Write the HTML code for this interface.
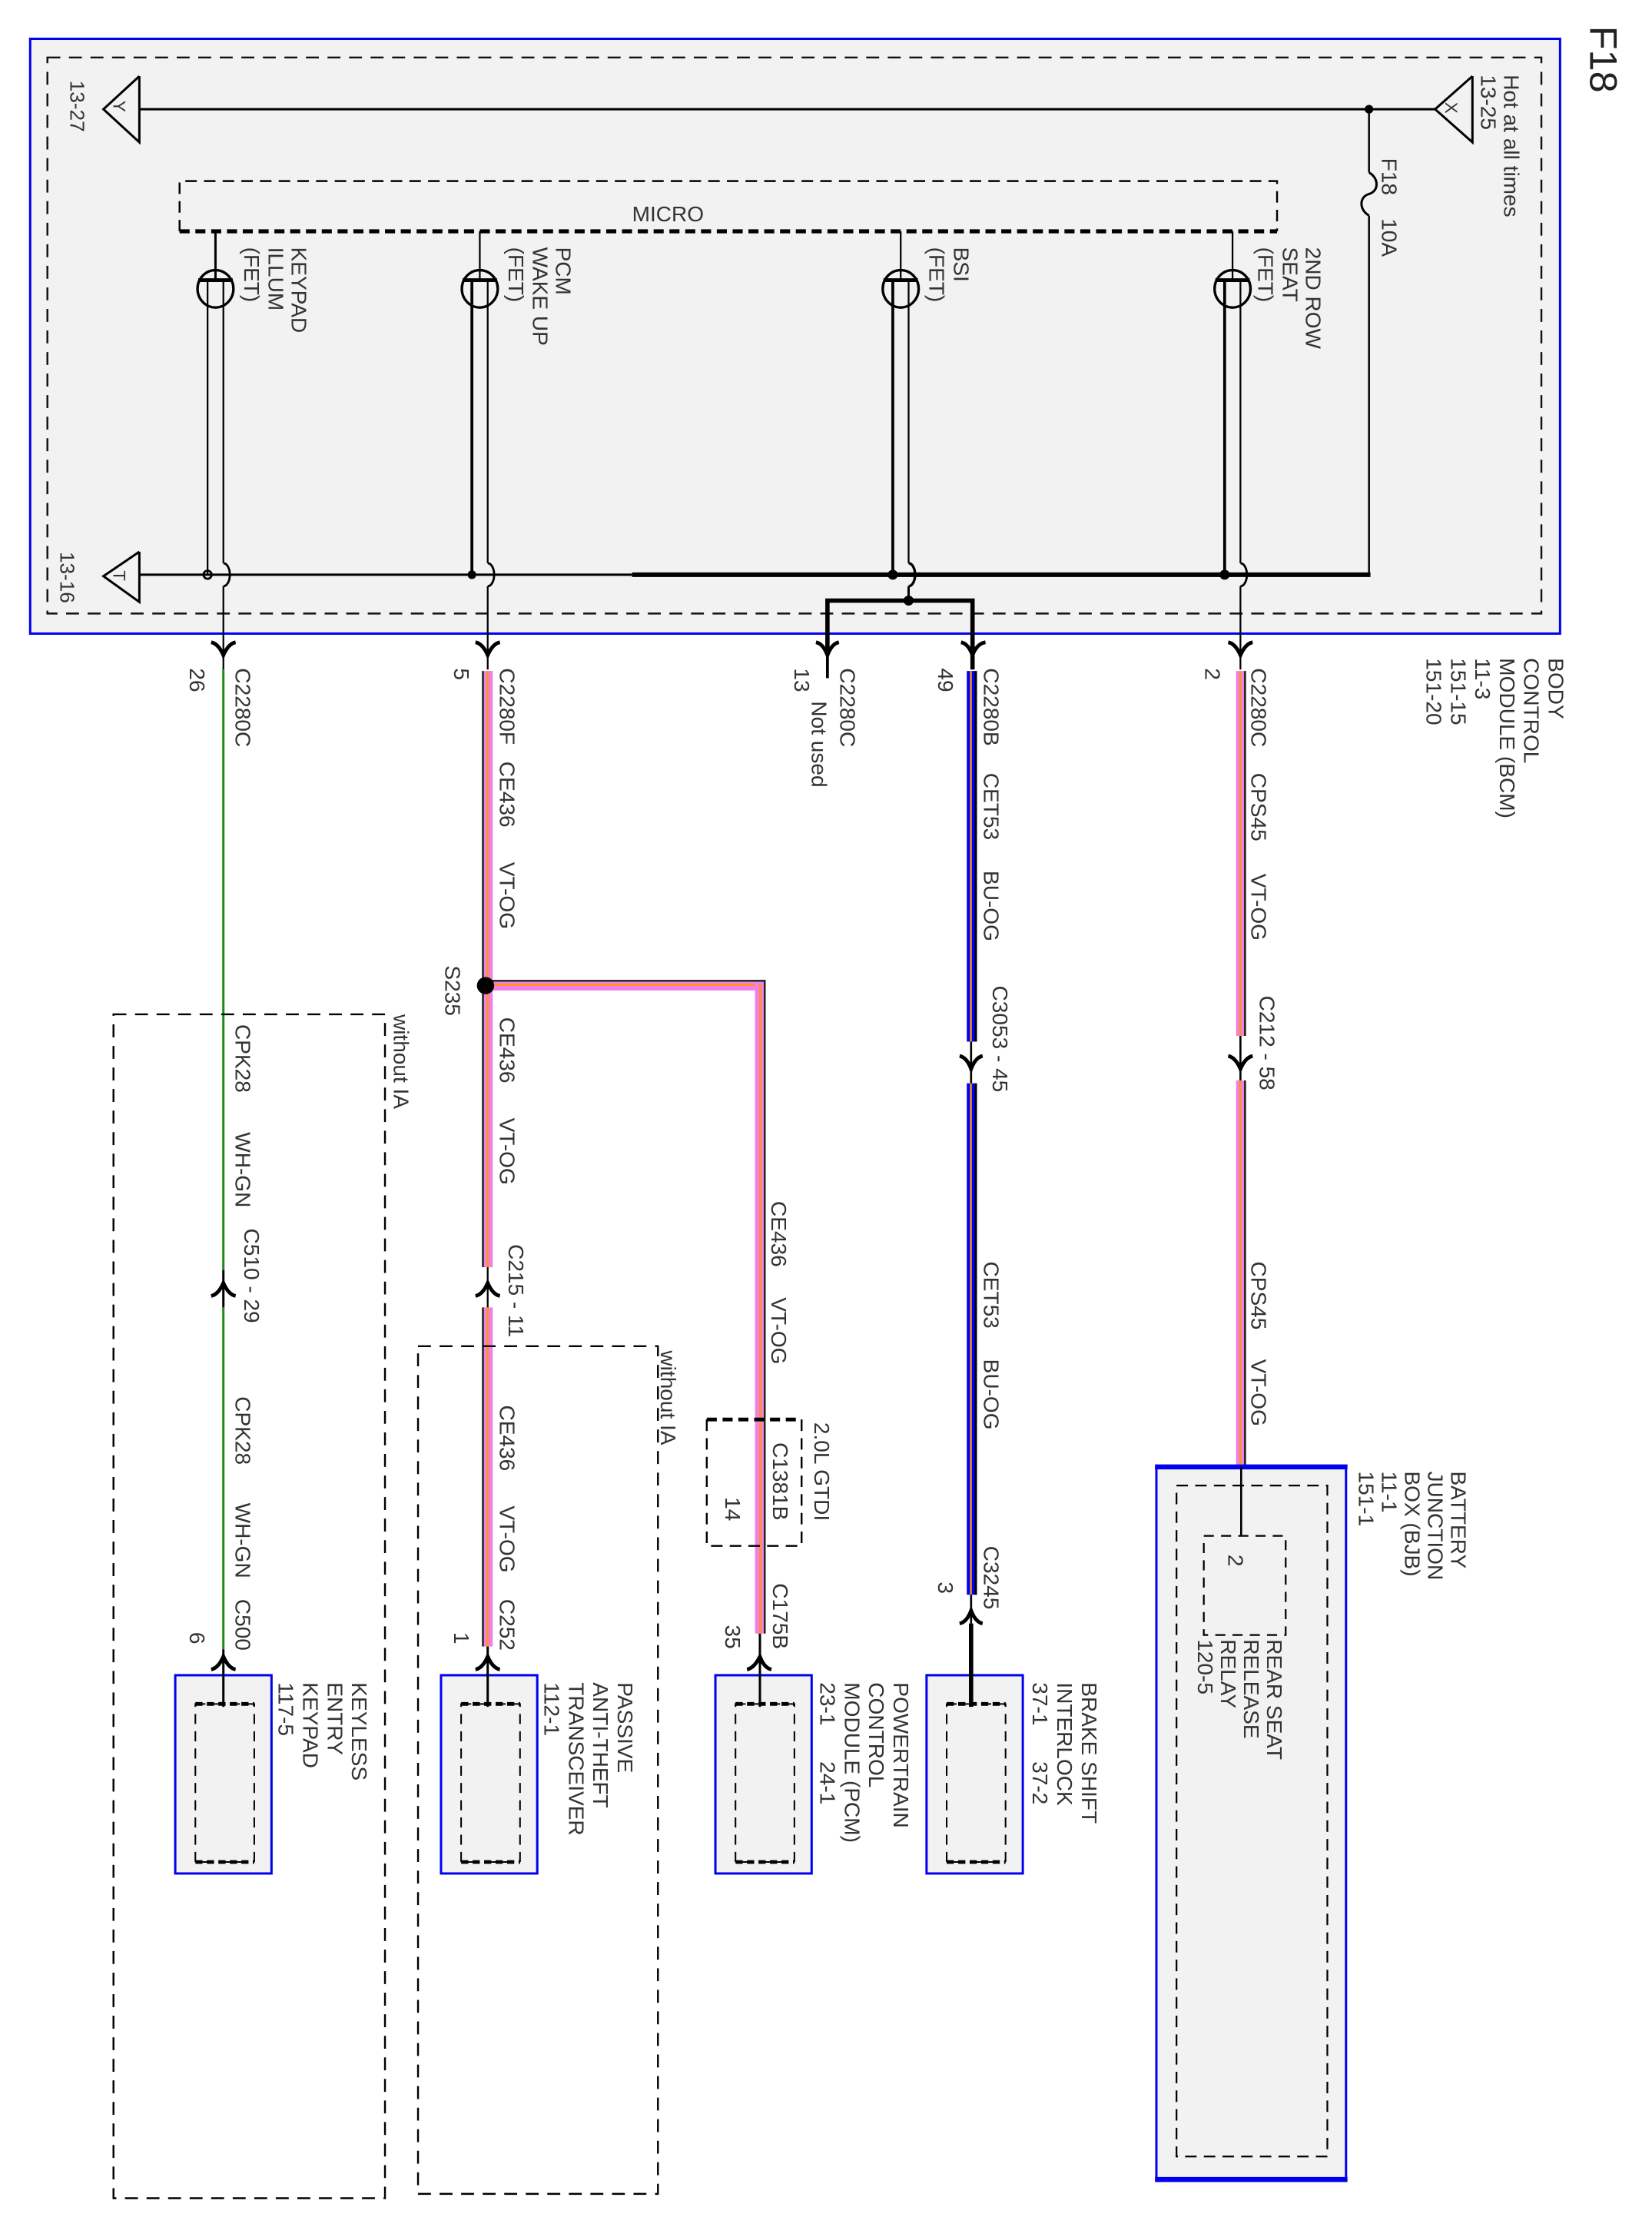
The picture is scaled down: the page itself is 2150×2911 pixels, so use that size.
<!DOCTYPE html>
<html><head><meta charset="utf-8"><style>
html,body{margin:0;padding:0;background:#fff;}
svg{display:block}
text{font-family:"Liberation Sans",sans-serif;fill:#333;font-size:15px}
</style></head><body>
<svg width="2150" height="2911" viewBox="0 0 1150 1557" xmlns="http://www.w3.org/2000/svg">
<rect x="0" y="0" width="1150" height="1557" fill="#fff"/>
<rect x="21" y="27" width="1065" height="414" fill="#f2f2f2" stroke="#0000ee" stroke-width="1.6"/>
<rect x="33" y="40" width="1040" height="387" fill="none" stroke="#111" stroke-width="1.3" stroke-dasharray="9,6"/>
<g fill="none" stroke="#000">
<line x1="97" y1="76" x2="999" y2="76" stroke-width="1.6"/>
<polyline points="97,53 72,76 97,99 97,53" stroke-width="1.6"/>
<polyline points="1025,53 999,76 1025,99 1025,53" stroke-width="1.6"/>
<polyline points="97,384 72,401 97,419 97,384" stroke-width="1.6"/>
<line x1="953" y1="76" x2="953" y2="120" stroke-width="1.3"/>
<path d="M953,120 C960,124 960,133 953,135 C946,137 946,146 953,150" stroke-width="1.6"/>
<line x1="953" y1="150" x2="953" y2="400" stroke-width="1.3"/>
<line x1="97" y1="400" x2="440" y2="400" stroke-width="1.6"/>
<line x1="440" y1="400" x2="954" y2="400" stroke-width="3.2"/>
<path d="M125,161 L125,126 L889,126 L889,161" stroke-width="1.3" stroke-dasharray="8,5"/>
<line x1="125" y1="161" x2="889" y2="161" stroke-width="2.8" stroke-dasharray="7,4"/>
</g>
<circle cx="953" cy="76" r="3" fill="#000"/>
<text x="440" y="154">MICRO</text>
<g fill="none" stroke="#000">
<line x1="150" y1="161" x2="150" y2="195" stroke-width="1.6"/>
<ellipse cx="150" cy="201" rx="12.5" ry="13" stroke-width="1.8"/>
<line x1="138" y1="195" x2="162" y2="195" stroke-width="2.6"/>
<line x1="144.5" y1="195" x2="144.5" y2="400" stroke-width="1.2"/>
<line x1="155.5" y1="195" x2="155.5" y2="392" stroke-width="1.2"/>
<path d="M155.5,392 A4.5,8 0 0 1 155.5,408" stroke-width="1.5"/>
<line x1="155.5" y1="408" x2="155.5" y2="466" stroke-width="1.2"/>
<line x1="334" y1="161" x2="334" y2="195" stroke-width="1.2"/>
<ellipse cx="334" cy="201" rx="12.5" ry="13" stroke-width="1.8"/>
<line x1="322" y1="195" x2="346" y2="195" stroke-width="2.6"/>
<line x1="328.5" y1="195" x2="328.5" y2="400" stroke-width="2"/>
<line x1="339.5" y1="195" x2="339.5" y2="392" stroke-width="1.2"/>
<path d="M339.5,392 A4.5,8 0 0 1 339.5,408" stroke-width="1.5"/>
<line x1="339.5" y1="408" x2="339.5" y2="466" stroke-width="1.2"/>
<line x1="627" y1="161" x2="627" y2="195" stroke-width="1.2"/>
<ellipse cx="627" cy="201" rx="12.5" ry="13" stroke-width="1.8"/>
<line x1="615" y1="195" x2="639" y2="195" stroke-width="2.6"/>
<line x1="621.5" y1="195" x2="621.5" y2="400" stroke-width="2"/>
<line x1="632.5" y1="195" x2="632.5" y2="392" stroke-width="1.2"/>
<path d="M632.5,392 A4.5,8 0 0 1 632.5,408" stroke-width="1.8"/>
<line x1="632.5" y1="408" x2="632.5" y2="418" stroke-width="1.6"/>
<polyline points="576,454 576,418 677,418 677,466" stroke-width="3"/>
<line x1="858" y1="161" x2="858" y2="195" stroke-width="1.2"/>
<ellipse cx="858" cy="201" rx="12.5" ry="13" stroke-width="1.8"/>
<line x1="846" y1="195" x2="870" y2="195" stroke-width="2.6"/>
<line x1="852.5" y1="195" x2="852.5" y2="400" stroke-width="2"/>
<line x1="863.5" y1="195" x2="863.5" y2="392" stroke-width="1.2"/>
<path d="M863.5,392 A4.5,8 0 0 1 863.5,408" stroke-width="1.5"/>
<line x1="863.5" y1="408" x2="863.5" y2="466" stroke-width="1.2"/>
</g>
<g fill="#000">
<circle cx="144.5" cy="400" r="2.8" fill="none" stroke="#000" stroke-width="1.5"/>
<circle cx="328.5" cy="400" r="3"/>
<circle cx="621.5" cy="400" r="3.5"/>
<circle cx="852.5" cy="400" r="3.5"/>
<circle cx="632.5" cy="418" r="3.5"/>
</g>
<text transform="translate(79,70) rotate(90)" style="font-size:12px">Y</text>
<text transform="translate(1006,71) rotate(90)" style="font-size:12px">X</text>
<text transform="translate(79,397) rotate(90)" style="font-size:12px">T</text>
<text transform="translate(49,56) rotate(90)" style="font-size:14px">13-27</text>
<text transform="translate(42,384) rotate(90)" style="font-size:14px">13-16</text>
<text transform="translate(1047,52) rotate(90)">Hot at all times</text>
<text transform="translate(1031,52) rotate(90)">13-25</text>
<text transform="translate(962,110) rotate(90)">F18</text>
<text transform="translate(962,152) rotate(90)">10A</text>
<text transform="translate(1107,18) rotate(90)" style="font-size:27px;fill:#222">F18</text>
<text transform="translate(203,172) rotate(90)">KEYPAD</text>
<text transform="translate(187,172) rotate(90)">ILLUM</text>
<text transform="translate(170,172) rotate(90)">(FET)</text>
<text transform="translate(387,172) rotate(90)">PCM</text>
<text transform="translate(371,172) rotate(90)">WAKE UP</text>
<text transform="translate(354,172) rotate(90)">(FET)</text>
<text transform="translate(664,172) rotate(90)">BSI</text>
<text transform="translate(647,172) rotate(90)">(FET)</text>
<text transform="translate(909,172) rotate(90)">2ND ROW</text>
<text transform="translate(893,172) rotate(90)">SEAT</text>
<text transform="translate(876,172) rotate(90)">(FET)</text>
<text transform="translate(1078,458) rotate(90)">BODY</text>
<text transform="translate(1061,458) rotate(90)">CONTROL</text>
<text transform="translate(1044,458) rotate(90)">MODULE (BCM)</text>
<text transform="translate(1027,458) rotate(90)">11-3</text>
<text transform="translate(1010,458) rotate(90)">151-15</text>
<text transform="translate(993,458) rotate(90)">151-20</text>
<g fill="none" stroke="#000" stroke-width="2.6">
<path d="M147,447 Q152,448 155.5,456 Q159,448 164,447"/>
<path d="M331,447 Q336,448 339.5,456 Q343,448 348,447"/>
<path d="M568,447 Q573,448 576,456 Q579,448 584,447"/>
<path d="M669,447 Q674,448 677,456 Q680,448 686,447"/>
<path d="M855,447 Q860,448 863.5,456 Q867,448 872,447"/>
</g>
<line x1="576" y1="454" x2="576" y2="472" stroke="#000" stroke-width="2"/>
<line x1="155.5" y1="466" x2="155.5" y2="884" stroke="#1a8a1a" stroke-width="1.6"/>
<line x1="155.5" y1="884" x2="155.5" y2="910" stroke="#000" stroke-width="1.6"/>
<line x1="155.5" y1="910" x2="155.5" y2="1148" stroke="#1a8a1a" stroke-width="1.6"/>
<rect x="335.5" y="467" width="1.4" height="415" fill="#222"/>
<rect x="337" y="467" width="6" height="415" fill="#f080e8"/>
<rect x="338.8" y="467" width="1.3" height="415" fill="#ff9900"/>
<rect x="335.5" y="910" width="1.4" height="236" fill="#222"/>
<rect x="337" y="910" width="6" height="236" fill="#f080e8"/>
<rect x="338.8" y="910" width="1.3" height="236" fill="#ff9900"/>
<line x1="339.5" y1="882" x2="339.5" y2="910" stroke="#000" stroke-width="1.2"/>
<rect x="338" y="682" width="195" height="1.4" fill="#222"/>
<rect x="338" y="683.4" width="193" height="6" fill="#f080e8"/>
<rect x="338" y="684.8" width="192" height="1.3" fill="#ff9900"/>
<rect x="531.6" y="682" width="1.4" height="455" fill="#222"/>
<rect x="525.6" y="683.4" width="6" height="453.6" fill="#f080e8"/>
<rect x="528.6" y="684.8" width="1.3" height="452" fill="#ff9900"/>
<circle cx="338" cy="686" r="6" fill="#000"/>
<rect x="673" y="467" width="6" height="258" fill="#0000ff"/>
<rect x="675.2" y="467" width="1.3" height="258" fill="#ff9900"/>
<rect x="678.5" y="467" width="1.6" height="258" fill="#000"/>
<rect x="673" y="754" width="6" height="356" fill="#0000ff"/>
<rect x="675.2" y="754" width="1.3" height="356" fill="#ff9900"/>
<rect x="678.5" y="754" width="1.6" height="356" fill="#000"/>
<line x1="676" y1="725" x2="676" y2="754" stroke="#000" stroke-width="1.4"/>
<line x1="676" y1="1110" x2="676" y2="1130" stroke="#000" stroke-width="1.4"/>
<rect x="860.5" y="467" width="6" height="254" fill="#f080e8"/>
<rect x="862.7" y="467" width="1.3" height="254" fill="#ff9900"/>
<rect x="866" y="467" width="1.4" height="254" fill="#222"/>
<rect x="860.5" y="752" width="6" height="271" fill="#f080e8"/>
<rect x="862.7" y="752" width="1.3" height="271" fill="#ff9900"/>
<rect x="866" y="752" width="1.4" height="271" fill="#222"/>
<line x1="863.5" y1="721" x2="863.5" y2="752" stroke="#000" stroke-width="1.4"/>
<g fill="none" stroke="#000" stroke-width="2.6">
<path d="M668,735 Q673,736 676,744 Q679,736 684,735"/>
<path d="M855,735 Q860,736 863.5,744 Q867,736 872,735"/>
<path d="M147,902 Q152,901 155.5,893 Q159,901 164,902"/>
<path d="M331,902 Q336,901 339.5,893 Q343,901 348,902"/>
<path d="M147,1162 Q152,1161 155.5,1153 Q159,1161 164,1162"/>
<path d="M331,1162 Q336,1161 339.5,1153 Q343,1161 348,1162"/>
<path d="M520,1162 Q525,1161 529,1153 Q532,1161 537,1162"/>
<path d="M668,1130 Q673,1129 676,1121 Q679,1129 684,1130"/>
</g>
<path d="M492,988 L558,988" stroke="#000" stroke-width="2.6" stroke-dasharray="7,4" fill="none"/>
<path d="M558,988 L558,1076 L492,1076 L492,988" stroke="#000" stroke-width="1.3" stroke-dasharray="8,5" fill="none"/>
<rect x="79" y="706" width="189" height="824" fill="none" stroke="#000" stroke-width="1.3" stroke-dasharray="9,6"/>
<rect x="291" y="937" width="167" height="590" fill="none" stroke="#000" stroke-width="1.3" stroke-dasharray="9,6"/>
<g>
<rect x="122" y="1166" width="67" height="138" fill="#f2f2f2" stroke="#0000ee" stroke-width="1.6"/>
<rect x="136" y="1186" width="41" height="110" fill="none" stroke="#000" stroke-width="1.1" stroke-dasharray="7,5"/>
<line x1="136" y1="1186" x2="177" y2="1186" stroke="#000" stroke-width="2.6" stroke-dasharray="5,3"/>
<line x1="136" y1="1296" x2="177" y2="1296" stroke="#000" stroke-width="2.6" stroke-dasharray="5,3"/>
<rect x="307" y="1166" width="67" height="138" fill="#f2f2f2" stroke="#0000ee" stroke-width="1.6"/>
<rect x="321" y="1186" width="41" height="110" fill="none" stroke="#000" stroke-width="1.1" stroke-dasharray="7,5"/>
<line x1="321" y1="1186" x2="362" y2="1186" stroke="#000" stroke-width="2.6" stroke-dasharray="5,3"/>
<line x1="321" y1="1296" x2="362" y2="1296" stroke="#000" stroke-width="2.6" stroke-dasharray="5,3"/>
<rect x="498" y="1166" width="67" height="138" fill="#f2f2f2" stroke="#0000ee" stroke-width="1.6"/>
<rect x="512" y="1186" width="41" height="110" fill="none" stroke="#000" stroke-width="1.1" stroke-dasharray="7,5"/>
<line x1="512" y1="1186" x2="553" y2="1186" stroke="#000" stroke-width="2.6" stroke-dasharray="5,3"/>
<line x1="512" y1="1296" x2="553" y2="1296" stroke="#000" stroke-width="2.6" stroke-dasharray="5,3"/>
<rect x="645" y="1166" width="67" height="138" fill="#f2f2f2" stroke="#0000ee" stroke-width="1.6"/>
<rect x="659" y="1186" width="41" height="110" fill="none" stroke="#000" stroke-width="1.1" stroke-dasharray="7,5"/>
<line x1="659" y1="1186" x2="700" y2="1186" stroke="#000" stroke-width="2.6" stroke-dasharray="5,3"/>
<line x1="659" y1="1296" x2="700" y2="1296" stroke="#000" stroke-width="2.6" stroke-dasharray="5,3"/>
<rect x="805" y="1021" width="132" height="496" fill="#f2f2f2" stroke="#0000ee" stroke-width="1.6"/>
<line x1="804" y1="1021" x2="938" y2="1021" stroke="#0000ee" stroke-width="3.5"/>
<line x1="804" y1="1517" x2="938" y2="1517" stroke="#0000ee" stroke-width="3.5"/>
<rect x="819" y="1034" width="105" height="467" fill="none" stroke="#000" stroke-width="1.2" stroke-dasharray="8,5"/>
<rect x="838" y="1069" width="57" height="69" fill="none" stroke="#000" stroke-width="1.2" stroke-dasharray="7,5"/>
</g>
<line x1="155.5" y1="1148" x2="155.5" y2="1188" stroke="#000" stroke-width="1.6"/>
<line x1="339.5" y1="1146" x2="339.5" y2="1188" stroke="#000" stroke-width="1.6"/>
<line x1="529" y1="1137" x2="529" y2="1188" stroke="#000" stroke-width="1.6"/>
<line x1="676" y1="1130" x2="676" y2="1188" stroke="#000" stroke-width="3"/>
<line x1="864" y1="1021" x2="864" y2="1069" stroke="#000" stroke-width="1.4"/>
<g>
<text transform="translate(164,465) rotate(90)">C2280C</text>
<text transform="translate(132,465) rotate(90)">26</text>
<text transform="translate(164,713) rotate(90)">CPK28</text>
<text transform="translate(164,788) rotate(90)">WH-GN</text>
<text transform="translate(170,855) rotate(90)">C510 - 29</text>
<text transform="translate(164,972) rotate(90)">CPK28</text>
<text transform="translate(164,1046) rotate(90)">WH-GN</text>
<text transform="translate(164,1113) rotate(90)">C500</text>
<text transform="translate(132,1136) rotate(90)">6</text>
<text transform="translate(348,465) rotate(90)">C2280F</text>
<text transform="translate(348,530) rotate(90)">CE436</text>
<text transform="translate(348,600) rotate(90)">VT-OG</text>
<text transform="translate(316,465) rotate(90)">5</text>
<text transform="translate(310,672) rotate(90)">S235</text>
<text transform="translate(348,708) rotate(90)">CE436</text>
<text transform="translate(348,778) rotate(90)">VT-OG</text>
<text transform="translate(354,866) rotate(90)">C215 - 11</text>
<text transform="translate(348,978) rotate(90)">CE436</text>
<text transform="translate(348,1048) rotate(90)">VT-OG</text>
<text transform="translate(348,1113) rotate(90)">C252</text>
<text transform="translate(316,1136) rotate(90)">1</text>
<text transform="translate(274,706) rotate(90)">without IA</text>
<text transform="translate(460,940) rotate(90)">without IA</text>
<text transform="translate(537,836) rotate(90)">CE436</text>
<text transform="translate(537,903) rotate(90)">VT-OG</text>
<text transform="translate(567,990) rotate(90)">2.0L GTDI</text>
<text transform="translate(538,1004) rotate(90)">C1381B</text>
<text transform="translate(505,1042) rotate(90)">14</text>
<text transform="translate(538,1102) rotate(90)">C175B</text>
<text transform="translate(505,1131) rotate(90)">35</text>
<text transform="translate(585,465) rotate(90)">C2280C</text>
<text transform="translate(553,465) rotate(90)">13</text>
<text transform="translate(565,488) rotate(90)">Not used</text>
<text transform="translate(685,465) rotate(90)">C2280B</text>
<text transform="translate(685,538) rotate(90)">CET53</text>
<text transform="translate(685,606) rotate(90)">BU-OG</text>
<text transform="translate(653,465) rotate(90)">49</text>
<text transform="translate(691,686) rotate(90)">C3053 - 45</text>
<text transform="translate(685,878) rotate(90)">CET53</text>
<text transform="translate(685,946) rotate(90)">BU-OG</text>
<text transform="translate(685,1076) rotate(90)">C3245</text>
<text transform="translate(653,1101) rotate(90)">3</text>
<text transform="translate(871,465) rotate(90)">C2280C</text>
<text transform="translate(871,538) rotate(90)">CPS45</text>
<text transform="translate(871,608) rotate(90)">VT-OG</text>
<text transform="translate(839,465) rotate(90)">2</text>
<text transform="translate(877,693) rotate(90)">C212 - 58</text>
<text transform="translate(871,878) rotate(90)">CPS45</text>
<text transform="translate(871,946) rotate(90)">VT-OG</text>
</g>
<g>
<text transform="translate(245,1171) rotate(90)">KEYLESS</text>
<text transform="translate(228,1171) rotate(90)">ENTRY</text>
<text transform="translate(211,1171) rotate(90)">KEYPAD</text>
<text transform="translate(194,1171) rotate(90)">117-5</text>
<text transform="translate(430,1171) rotate(90)">PASSIVE</text>
<text transform="translate(413,1171) rotate(90)">ANTI-THEFT</text>
<text transform="translate(396,1171) rotate(90)">TRANSCEIVER</text>
<text transform="translate(379,1171) rotate(90)">112-1</text>
<text transform="translate(622,1171) rotate(90)">POWERTRAIN</text>
<text transform="translate(605,1171) rotate(90)">CONTROL</text>
<text transform="translate(588,1171) rotate(90)">MODULE (PCM)</text>
<text transform="translate(571,1171) rotate(90)" xml:space="preserve">23-1      24-1</text>
<text transform="translate(753,1171) rotate(90)">BRAKE SHIFT</text>
<text transform="translate(736,1171) rotate(90)">INTERLOCK</text>
<text transform="translate(719,1171) rotate(90)" xml:space="preserve">37-1      37-2</text>
<text transform="translate(1010,1024) rotate(90)">BATTERY</text>
<text transform="translate(994,1024) rotate(90)">JUNCTION</text>
<text transform="translate(978,1024) rotate(90)">BOX (BJB)</text>
<text transform="translate(962,1024) rotate(90)">11-1</text>
<text transform="translate(946,1024) rotate(90)">151-1</text>
<text transform="translate(882,1141) rotate(90)">REAR SEAT</text>
<text transform="translate(866,1141) rotate(90)">RELEASE</text>
<text transform="translate(850,1141) rotate(90)">RELAY</text>
<text transform="translate(834,1141) rotate(90)">120-5</text>
<text transform="translate(855,1082) rotate(90)">2</text>
</g>
</svg>
</body></html>
